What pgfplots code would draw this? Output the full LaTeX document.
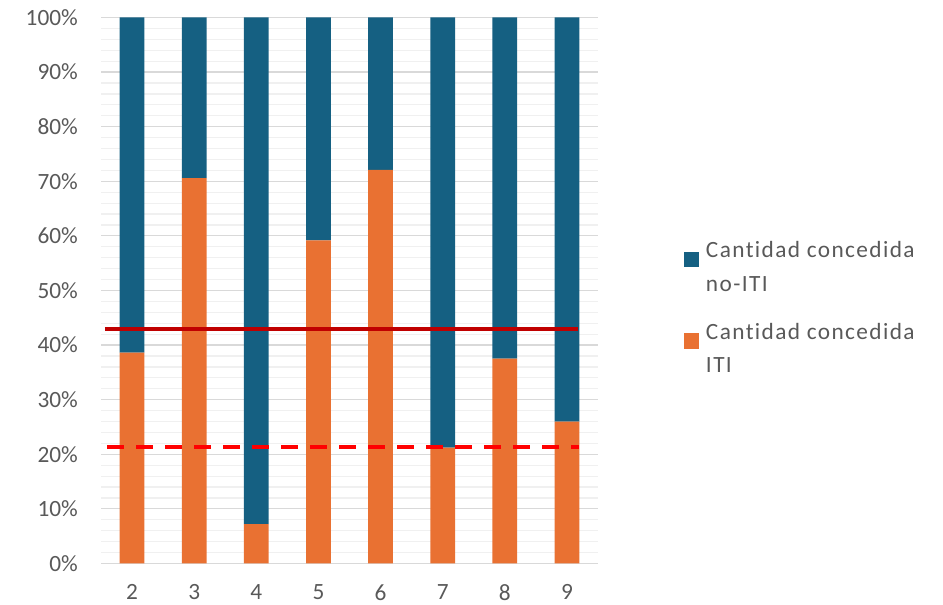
\documentclass[border=0pt]{standalone}
\usepackage{fontspec}
\setmainfont{Carlito}[Ligatures={NoCommon}]
\usepackage{pgfplots}
\pgfplotsset{compat=1.18}
\definecolor{cblue}{HTML}{156082}
\definecolor{corange}{HTML}{E97132}
\definecolor{txt}{HTML}{595959}
\definecolor{gmaj}{HTML}{D9D9D9}
\definecolor{gmin}{HTML}{F0F0F0}
\definecolor{dred}{HTML}{C00000}
\begin{document}
\begin{tikzpicture}[x=1pt,y=1pt]
\useasboundingbox (0,0) rectangle (943,605);
\pgfplotsset{common/.style={width=497pt,height=546pt,scale only axis,
  at={(101pt,41.5pt)}, anchor=south west,
  xmin=1.5,xmax=9.5,ymin=0,ymax=100}}
\begin{axis}[common, ybar stacked, bar width=24.7pt,
  font=\fontsize{23.3}{28}\selectfont,
  xtick={2,...,9}, ytick={0,10,...,100}, minor y tick num=4,
  ymajorgrids, yminorgrids,
  major grid style={gmaj, line width=1.2pt},
  minor grid style={gmin, line width=1.2pt},
  axis line style={draw=none}, major tick length=0pt, minor tick length=0pt,
  tick label style={text=txt, inner sep=0pt},
  /pgf/number format/assume math mode=true,
  yticklabel={\pgfmathprintnumber{\tick}\%},
  yticklabel style={xshift=-23pt},
  xticklabel style={yshift=-21pt},
  reverse legend, legend cell align=left,
  legend image code/.code={\fill[#1] (0pt,0pt) rectangle (15pt,15.3pt);},
  legend style={at={(rel axis cs:1.173,0.5897)}, anchor=north west,
    draw=none, fill=none, inner sep=0pt, outer sep=0pt, row sep=30pt,
    nodes={inner sep=0pt, outer sep=0pt, align=left, text=txt,
      font=\fontsize{23.3}{33.7}\selectfont\addfontfeature{LetterSpace=6}},
    /tikz/every odd column/.append style={column sep=7pt}},
]
\addplot[fill=corange, draw=none] coordinates {(2,38.6) (3,70.6) (4,7.2) (5,59.2) (6,72.1) (7,21.2) (8,37.5) (9,26.0)};
\addlegendentry{Cantidad concedida\\ITI}
\addplot[fill=cblue, draw=none] coordinates {(2,61.4) (3,29.4) (4,92.8) (5,40.8) (6,27.9) (7,78.8) (8,62.5) (9,74.0)};
\addlegendentry{Cantidad concedida\\no-ITI}
\end{axis}
\begin{axis}[common, hide axis, clip=false]
\addplot[dred, line width=4.3pt] coordinates {(1.564,43.0) (9.173,43.0)};
\addplot[red, line width=3.7pt, dash pattern=on 16.7pt off 12.3pt] coordinates {(1.597,21.3) (9.19,21.3)};
\end{axis}
\end{tikzpicture}
\end{document}
